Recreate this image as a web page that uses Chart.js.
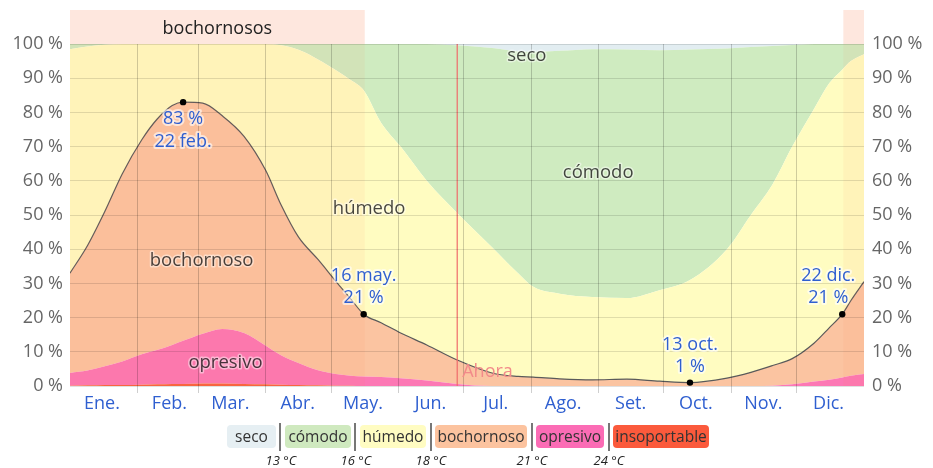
<!DOCTYPE html>
<html>
<head>
<meta charset="utf-8">
<script src="https://cdn.jsdelivr.net/npm/chart.js@4/dist/chart.umd.min.js"></script>
<style>
  html, body { margin: 0; padding: 0; background: #fff; }
  #wrap { position: relative; width: 933px; height: 468px; overflow: hidden; }
  #chart { position: absolute; left: 0; top: 0; }
  .lg { position: absolute; top: 425px; height: 23px; line-height: 23px; border-radius: 4px;
        text-align: center; font: 15.5px 'Open Sans', sans-serif; color: #333; }
  .sep { position: absolute; top: 423px; width: 2px; height: 28px; background: #777; }
  .tmp { position: absolute; top: 451px; width: 60px; margin-left: -30px; text-align: center;
         font: italic 13px 'Open Sans', sans-serif; color: #222; }
</style>
</head>
<body>
<div id="wrap">
  <canvas id="chart" width="933" height="468"></canvas>
  <div class="lg" style="left:227px;width:49px;background:#e6eff3">seco</div>
  <div class="sep" style="left:279px"></div>
  <div class="lg" style="left:285px;width:66px;background:#cfe9bf">cómodo</div>
  <div class="sep" style="left:354px"></div>
  <div class="lg" style="left:360px;width:66px;background:#fffcc2">húmedo</div>
  <div class="sep" style="left:430px"></div>
  <div class="lg" style="left:435px;width:92px;background:#fcc39f">bochornoso</div>
  <div class="sep" style="left:531px"></div>
  <div class="lg" style="left:536px;width:68px;background:#fb6cb5">opresivo</div>
  <div class="sep" style="left:608px"></div>
  <div class="lg" style="left:613px;width:96px;background:#fb5a3c">insoportable</div>
  <div class="tmp" style="left:281px">13 °C</div>
  <div class="tmp" style="left:356px">16 °C</div>
  <div class="tmp" style="left:431px">18 °C</div>
  <div class="tmp" style="left:532px">21 °C</div>
  <div class="tmp" style="left:609px">24 °C</div>
</div>
<script>
// Day of year (0 = 1 Jan, 365 = 31 Dec end)
const days = [0, 8, 16, 24, 33, 40, 47, 52, 61, 70, 80, 90, 97, 105, 114, 123, 129, 135, 143, 152,
  164, 178, 194, 206, 213, 225, 240, 256, 271, 285, 302, 313, 323, 332, 342, 349, 355, 359, 365];

// Share of time (%) in each humidity comfort level
const insoportable = [0.1, 0.2, 0.3, 0.3, 0.4, 0.5, 0.6, 0.6, 0.7, 0.7, 0.6, 0.5, 0.4, 0.3, 0.2, 0.1, 0.1, 0, 0, 0,
  0, 0, 0, 0, 0, 0, 0, 0, 0, 0, 0, 0, 0, 0, 0, 0, 0, 0, 0];
const opresivo = [3.7, 4.3, 5.5, 6.9, 8.9, 10, 11.4, 12.6, 14.6, 16, 14.9, 11.3, 8.6, 6.4, 4.4, 3.3, 2.9, 2.8, 2.6, 2.3,
  1.6, 0.6, 0, 0, 0, 0, 0, 0, 0, 0, 0, 0, 0.1, 0.5, 1.3, 1.8, 2.5, 3, 3.5];
const bochornoso = [29.2, 36.5, 45.2, 54.8, 62.7, 67.5, 70, 69.8, 67.4, 62.3, 57.5, 51.2, 44, 36.9, 32.4, 26.6, 22.5, 18.2, 15.9, 13.2,
  10.4, 7, 3.8, 2.8, 2.6, 2.1, 1.8, 2, 1.4, 1, 2.3, 4, 5.9, 7.5, 11.2, 15.2, 18.5, 22, 27];
const humedo = [65.5, 58.3, 48.8, 38, 28, 22, 18, 17, 17.3, 21, 27, 37, 46.6, 54.7, 58.5, 62, 64, 65.5, 58.5, 54.5,
  48, 43, 36.8, 30.2, 26.4, 24.9, 24.2, 23.7, 26.6, 30, 37.7, 46, 53, 62, 68.5, 71.5, 71.5, 70, 66.5];
const comodo = [1.5, 0.7, 0.2, 0, 0, 0, 0, 0, 0, 0, 0, 0, 0.4, 1.7, 4.5, 8, 10.5, 13.5, 23, 30,
  40, 49, 58.2, 64.8, 68.7, 71, 72.5, 72.7, 70.2, 67.4, 58.7, 49.1, 40.4, 29.7, 19, 11.5, 7.5, 5, 3];
const seco = [0, 0, 0, 0, 0, 0, 0, 0, 0, 0, 0, 0, 0, 0, 0, 0, 0, 0, 0, 0,
  0, 0.4, 1.2, 2.2, 2.3, 2, 1.5, 1.6, 1.8, 1.6, 1.3, 0.9, 0.6, 0.3, 0, 0, 0, 0, 0];

// Extremes of the muggy share (bochornoso or worse)
const markDays = [52, 135, 285, 355];
const markValues = [83, 21, 1, 21];
const markDates = ['22 feb.', '16 may.', '13 oct.', '22 dic.'];

// Muggier period of the year
const muggyPeriods = [[0, 135.5], [355.5, 365]];
const todayDay = 178;

const monthStarts = [0, 31, 59, 90, 120, 151, 181, 212, 243, 273, 304, 334, 365];
const monthNames = ['Ene.', 'Feb.', 'Mar.', 'Abr.', 'May.', 'Jun.', 'Jul.', 'Ago.', 'Set.', 'Oct.', 'Nov.', 'Dic.'];
const yTicks = [0, 10, 20, 30, 40, 50, 60, 70, 80, 90, 100];

const levels = [
  { name: 'insoportable', values: insoportable, color: '#f8643e' },
  { name: 'opresivo', values: opresivo, color: '#fc78b4' },
  { name: 'bochornoso', values: bochornoso, color: '#fbc4a1' },
  { name: 'húmedo', values: humedo, color: '#fffcc1' },
  { name: 'cómodo', values: comodo, color: '#cfebc0' },
  { name: 'seco', values: seco, color: '#e2edf1' }
];

const FONT = "'Open Sans', sans-serif";
const BLUE = '#2f5fd0';

// Running totals so each band sits on the one below
const running = days.map(() => 0);
const datasets = levels.map((lv, k) => {
  const pts = days.map((d, i) => {
    running[i] += lv.values[i];
    return { x: d, y: running[i] };
  });
  const isMuggyEdge = lv.name === 'bochornoso';
  return {
    label: lv.name,
    data: pts,
    fill: k === 0 ? 'origin' : '-1',
    backgroundColor: lv.color,
    borderColor: isMuggyEdge ? '#5a5a5a' : 'rgba(0,0,0,0)',
    borderWidth: isMuggyEdge ? 1.2 : 1,
    pointRadius: 0,
    cubicInterpolationMode: 'monotone',
    order: 10
  };
});

datasets.push({
  label: 'Ahora',
  data: [{ x: todayDay, y: 0 }, { x: todayDay, y: 100 }],
  borderColor: '#ef6b6b',
  borderWidth: 1.2,
  pointRadius: 0,
  fill: false,
  order: 1
});

datasets.push({
  label: 'extremos',
  data: markDays.map((d, i) => ({ x: d, y: markValues[i] })),
  showLine: false,
  pointRadius: 3.2,
  pointBackgroundColor: '#000',
  pointBorderWidth: 0,
  fill: false,
  order: 0
});

// Shaded muggier period, drawn right after the bottom band
const periodShade = {
  id: 'periodShade',
  afterDatasetDraw(chart, args) {
    if (args.index !== 0) return;
    const { ctx, chartArea: a, scales: { x } } = chart;
    ctx.save();
    muggyPeriods.forEach(([s, e]) => {
      const x0 = x.getPixelForValue(s), x1 = x.getPixelForValue(e);
      ctx.fillStyle = 'rgba(250,130,80,0.07)';
      ctx.fillRect(x0, a.top, x1 - x0, a.bottom - a.top);
      ctx.fillStyle = 'rgba(250,130,80,0.19)';
      ctx.fillRect(x0, a.top - 34, x1 - x0, 34);
    });
    const [s0, e0] = muggyPeriods[0];
    ctx.fillStyle = '#222';
    ctx.font = '18px ' + FONT;
    ctx.textAlign = 'center';
    ctx.textBaseline = 'middle';
    ctx.fillText('bochornosos', (x.getPixelForValue(s0) + x.getPixelForValue(e0)) / 2, a.top - 15);
    ctx.restore();
  }
};

function haloText(ctx, text, px, py, fill, halo, width) {
  ctx.lineJoin = 'round';
  ctx.strokeStyle = halo;
  ctx.lineWidth = width;
  ctx.strokeText(text, px, py);
  ctx.fillStyle = fill;
  ctx.fillText(text, px, py);
}

// Band names, extreme values and the "now" marker text
const chartLabels = {
  id: 'chartLabels',
  afterDraw(chart) {
    const { ctx, scales: { x, y } } = chart;
    ctx.save();
    ctx.textAlign = 'center';
    ctx.textBaseline = 'middle';
    ctx.font = '18.5px ' + FONT;
    const bandNames = [
      ['seco', 210, 96.5], ['cómodo', 242.8, 62.3], ['húmedo', 137.5, 51.8],
      ['bochornoso', 60.5, 36.5], ['opresivo', 71.5, 6.7]
    ];
    bandNames.forEach(([t, d, v]) => {
      haloText(ctx, t, x.getPixelForValue(d), y.getPixelForValue(v), 'rgba(0,0,0,0.72)', 'rgba(255,255,255,0.45)', 3);
    });

    ctx.font = '18px ' + FONT;
    markDays.forEach((d, i) => {
      const px = x.getPixelForValue(d) + (i === 3 ? -14 : 0);
      const py = y.getPixelForValue(markValues[i]);
      const valueText = markValues[i] + ' %';
      if (i === 0) {
        haloText(ctx, valueText, px, py + 17, BLUE, 'rgba(255,255,255,0.6)', 4);
        haloText(ctx, markDates[i], px, py + 40, BLUE, 'rgba(255,255,255,0.6)', 4);
      } else {
        haloText(ctx, markDates[i], px, py - 38, BLUE, 'rgba(255,255,255,0.6)', 4);
        haloText(ctx, valueText, px, py - 16, BLUE, 'rgba(255,255,255,0.6)', 4);
      }
    });

    ctx.textAlign = 'left';
    ctx.font = '18px ' + FONT;
    ctx.fillStyle = '#f28a8a';
    ctx.fillText('Ahora', x.getPixelForValue(todayDay) + 5, y.getPixelForValue(4));
    ctx.restore();
  }
};

const edgeHidden = (c) => (c.tick && (c.tick.value === 0 || c.tick.value === 365)) ? 'rgba(0,0,0,0)' : 'rgba(0,0,0,0.19)';

new Chart(document.getElementById('chart'), {
  type: 'line',
  data: { datasets },
  plugins: [periodShade, chartLabels],
  options: {
    responsive: false,
    animation: false,
    events: [],
    layout: { padding: { top: 44, bottom: 52, left: 0, right: 0 } },
    plugins: { legend: { display: false }, tooltip: { enabled: false } },
    elements: { line: { tension: 0 } },
    scales: {
      x: {
        type: 'linear',
        min: 0,
        max: 365,
        afterBuildTicks: (s) => { s.ticks = monthStarts.map(v => ({ value: v })); },
        afterFit: (s) => { s.height = 30; },
        border: { display: false },
        grid: { color: edgeHidden, tickLength: 7, lineWidth: 1, z: 1 },
        ticks: {
          autoSkip: false,
          maxRotation: 0,
          labelOffset: 32,
          padding: 0,
          color: BLUE,
          font: { family: FONT, size: 18 },
          callback: (v, i) => monthNames[i] || ''
        }
      },
      y: {
        type: 'linear',
        position: 'left',
        min: 0,
        max: 100,
        afterBuildTicks: (s) => { s.ticks = yTicks.map(v => ({ value: v })); },
        afterFit: (s) => { s.width = 70; },
        border: { display: false },
        grid: { color: 'rgba(0,0,0,0.12)', drawTicks: false, z: 1 },
        ticks: { padding: 7, color: '#666', font: { family: FONT, size: 18 }, callback: (v) => v + ' %' }
      },
      y2: {
        type: 'linear',
        position: 'right',
        min: 0,
        max: 100,
        afterBuildTicks: (s) => { s.ticks = yTicks.map(v => ({ value: v })); },
        afterFit: (s) => { s.width = 69; },
        border: { display: false },
        grid: { display: false, drawTicks: false },
        ticks: { padding: 8, color: '#666', font: { family: FONT, size: 18 }, callback: (v) => v + ' %' }
      }
    }
  }
});
</script>
</body>
</html>
